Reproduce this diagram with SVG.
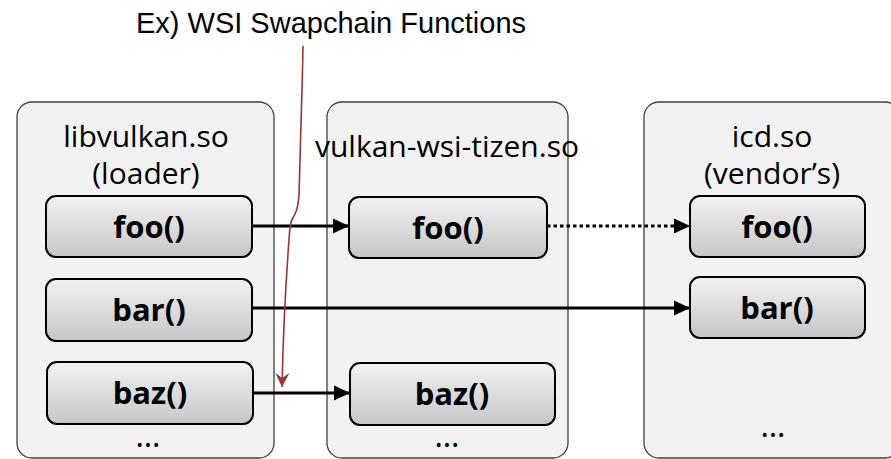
<svg xmlns="http://www.w3.org/2000/svg" width="891" height="459" viewBox="0 0 891 459">
<defs>
<linearGradient id="fn" x1="0" y1="0" x2="0" y2="1">
<stop offset="0" stop-color="#f2f2f2"/>
<stop offset="1" stop-color="#c6c6c6"/>
</linearGradient>
<marker id="ah" markerWidth="16" markerHeight="16" refX="16" refY="8" orient="auto" markerUnits="userSpaceOnUse">
<path d="M0,0.5 L16,8 L0,15.5 Z" fill="#000"/>
</marker>
<marker id="rh" markerWidth="16" markerHeight="16" refX="14" refY="7" orient="auto" markerUnits="userSpaceOnUse">
<path d="M0,0 L14,7 L0,14 L5,7 Z" fill="#953735"/>
</marker>
</defs>
<style>
.lib{fill:#f2f2f2;stroke:#404040;stroke-width:1.3}
.fn{fill:url(#fn);stroke:#000;stroke-width:2}
.t{font-family:"Open Sans","Noto Sans",sans-serif;font-size:30px;fill:#000;text-anchor:middle}
.b{font-family:"Open Sans","Noto Sans",sans-serif;font-size:31px;font-weight:bold;fill:#000;text-anchor:middle}
.d{font-family:"Open Sans","Noto Sans",sans-serif;font-size:32px;fill:#000;text-anchor:middle}
.c{stroke:#000;stroke-width:3;fill:none}
</style>
<text x="331" y="33" font-family="Liberation Sans, Arial, sans-serif" font-size="29" text-anchor="middle" fill="#000">Ex) WSI Swapchain Functions</text>

<g id="libvulkan">
<rect class="lib" x="17" y="102" width="257" height="356" rx="15"/>
<text class="t" x="146" y="147">libvulkan.so</text>
<text class="t" x="146" y="184">(loader)</text>
</g>
<g id="lv-foo"><rect class="fn" x="46" y="196" width="206" height="61" rx="10"/><text class="b" x="149" y="238">foo()</text></g>
<g id="lv-bar"><rect class="fn" x="46" y="279" width="206" height="62" rx="10"/><text class="b" x="149" y="321">bar()</text></g>
<g id="lv-baz"><rect class="fn" x="47" y="362" width="206" height="62" rx="10"/><text class="b" x="150" y="404">baz()</text></g>
<text class="d" x="148" y="447">…</text>

<g id="wsi">
<rect class="lib" x="327" y="102" width="241" height="356" rx="15"/>
<text class="t" x="447" y="157">vulkan-wsi-tizen.so</text>
</g>
<g id="wsi-foo"><rect class="fn" x="349" y="197" width="198" height="61" rx="10"/><text class="b" x="448" y="239">foo()</text></g>
<g id="wsi-baz"><rect class="fn" x="350" y="363" width="205" height="62" rx="10"/><text class="b" x="452" y="405">baz()</text></g>
<text class="d" x="447" y="447">…</text>

<g id="icd">
<rect class="lib" x="644" y="102" width="256" height="356" rx="15"/>
<text class="t" x="772" y="147">icd.so</text>
<text class="t" x="772" y="184">(vendor’s)</text>
</g>
<g id="icd-foo"><rect class="fn" x="690" y="196" width="175" height="61" rx="10"/><text class="b" x="777" y="238">foo()</text></g>
<g id="icd-bar"><rect class="fn" x="690" y="277" width="175" height="61" rx="10"/><text class="b" x="777" y="319">bar()</text></g>
<text class="d" x="773" y="437">…</text>

<g id="connectors">
<line class="c" x1="252" y1="226" x2="349" y2="226" marker-end="url(#ah)"/>
<line class="c" x1="547" y1="226" x2="690" y2="226" stroke-dasharray="3.5 3" marker-end="url(#ah)"/>
<line class="c" x1="252" y1="308" x2="690" y2="308" marker-end="url(#ah)"/>
<line class="c" x1="253" y1="393" x2="350" y2="393" marker-end="url(#ah)"/>
<path d="M303,46 C302,100 300,160 299,195 C298,210 296,212 294,216 C290,222 290,226 289,240 C286,280 283,340 282,387" fill="none" stroke="#953735" stroke-width="1.6" marker-end="url(#rh)"/>
</g>
</svg>
